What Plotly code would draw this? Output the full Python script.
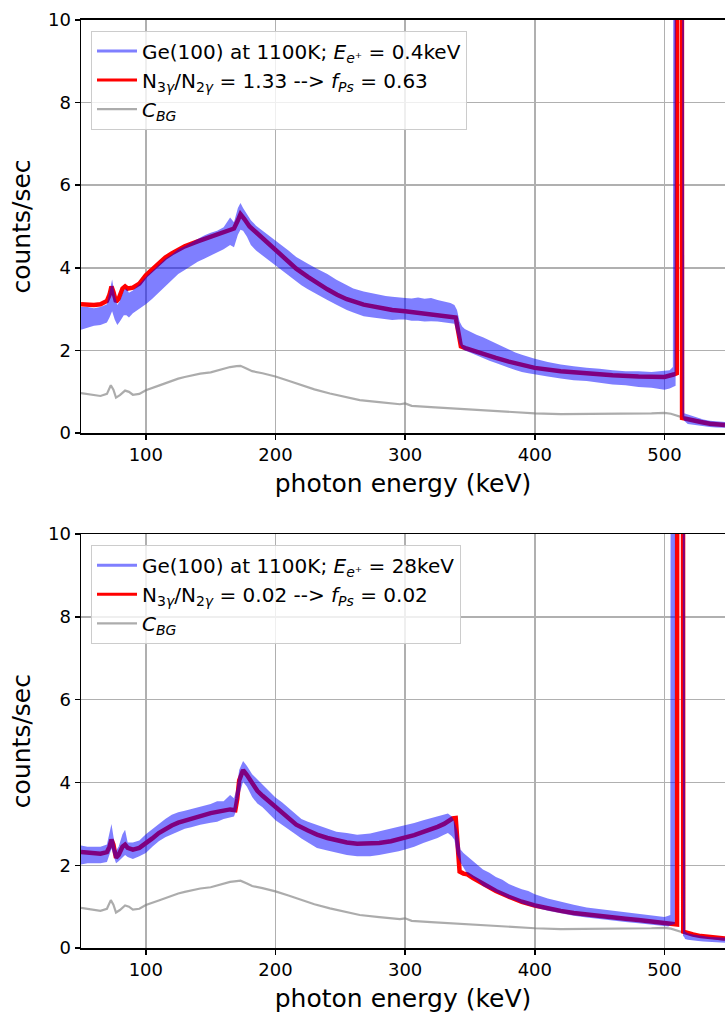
import plotly.graph_objects as go

# ---------------- shared background C_BG ----------------
bg_x = [50, 55, 60, 65, 70, 73, 75, 77, 80, 84, 87, 90, 95, 100, 110, 120, 125, 130, 142, 150,
        160, 165, 170, 173, 178, 182, 190, 200, 210, 220, 230, 242, 250, 265, 280, 290, 296, 300,
        305, 320, 350, 380, 400, 420, 450, 470, 490, 500, 505, 515, 530, 546.7]
bg_y = [0.97, 0.95, 0.92, 0.90, 0.95, 1.16, 1.05, 0.86, 0.92, 1.03, 1.00, 0.93, 0.95, 1.04, 1.15, 1.27,
        1.32, 1.36, 1.44, 1.47, 1.56, 1.60, 1.62, 1.63, 1.56, 1.50, 1.45, 1.37, 1.27, 1.16, 1.06, 0.96,
        0.90, 0.80, 0.75, 0.72, 0.70, 0.72, 0.66, 0.63, 0.57, 0.51, 0.48, 0.46, 0.47, 0.46, 0.48, 0.49,
        0.47, 0.37, 0.28, 0.20]

# ---------------- top panel: E = 0.4 keV ----------------
top_fit_x = [50, 55, 60, 65, 70, 72, 73.5, 75, 77, 79, 82, 84, 86, 90, 95, 100, 105, 110, 115, 120,
             130, 140, 150, 160, 165, 168, 171, 173, 176, 180, 185, 190, 200, 210, 216, 225, 232, 240,
             247.5, 255, 268, 280, 290, 300, 310, 320, 330, 335, 339, 341, 343, 346.5, 350, 360, 370,
             380, 390, 400, 420, 440, 460, 480, 500, 507, 509.5, 509.8, 513.2, 513.6, 516, 520, 528,
             535, 546.7]
top_fit_y = [3.12, 3.10, 3.10, 3.12, 3.20, 3.35, 3.55, 3.42, 3.18, 3.25, 3.50, 3.55, 3.50, 3.52, 3.62,
             3.82, 3.97, 4.10, 4.25, 4.35, 4.52, 4.64, 4.75, 4.85, 4.90, 4.95, 5.15, 5.30, 5.18, 5.00,
             4.86, 4.72, 4.46, 4.18, 3.98, 3.78, 3.63, 3.48, 3.35, 3.24, 3.11, 3.03, 2.98, 2.95, 2.91,
             2.87, 2.85, 2.83, 2.80, 2.45, 2.10, 2.06, 2.02, 1.92, 1.82, 1.73, 1.65, 1.58, 1.50, 1.44,
             1.40, 1.37, 1.36, 1.42, 1.45, 30, 30, 0.37, 0.35, 0.31, 0.27, 0.23, 0.20]

top_data_x = [50, 55, 60, 65, 70, 72, 74, 76, 78, 80, 83, 85, 87, 90, 95, 100, 105, 110, 115, 120,
              125, 130, 135, 140, 145, 150, 155, 160, 165, 168, 171, 173, 175, 178, 181, 185, 190,
              195, 200, 205, 210, 216, 220, 225, 232, 236, 240, 247, 255, 260, 268, 275, 280, 285,
              290, 295, 300, 305, 310, 315, 320, 325, 330, 335, 338, 340, 342, 344, 346, 350, 355,
              360, 365, 370, 375, 380, 385, 390, 395, 400, 410, 420, 430, 440, 450, 460, 470, 480,
              490, 500, 504, 506.5, 507.3, 508.6, 509.2, 513.3, 513.9, 514.6, 515.2, 518, 522, 526,
              530, 535, 540, 546.7]
top_data_lo = [2.50, 2.55, 2.60, 2.62, 2.68, 2.80, 2.95, 2.75, 2.62, 2.70, 2.85, 2.85, 2.80, 2.90,
               3.00, 3.12, 3.25, 3.40, 3.55, 3.72, 3.85, 3.95, 4.05, 4.15, 4.22, 4.30, 4.38, 4.45,
               4.55, 4.50, 4.80, 4.92, 4.90, 4.75, 4.55, 4.42, 4.30, 4.18, 4.06, 3.92, 3.80, 3.67,
               3.58, 3.48, 3.35, 3.28, 3.22, 3.11, 2.98, 2.92, 2.83, 2.80, 2.78, 2.76, 2.74, 2.75,
               2.75, 2.72, 2.72, 2.70, 2.71, 2.70, 2.68, 2.67, 2.65, 2.40, 2.15, 2.05, 2.00, 1.95,
               1.88, 1.82, 1.75, 1.70, 1.63, 1.58, 1.53, 1.48, 1.45, 1.42, 1.37, 1.32, 1.28, 1.26,
               1.22, 1.18, 1.16, 1.12, 1.10, 1.05, 1.08, 1.12, 1.12, 1.15, 30, 30, 0.40, 0.33, 0.30,
               0.22, 0.20, 0.18, 0.16, 0.15, 0.14, 0.13]
top_data_hi = [3.05, 3.05, 3.02, 3.05, 3.12, 3.45, 3.72, 3.35, 3.10, 3.20, 3.45, 3.50, 3.40, 3.45,
               3.60, 3.78, 3.92, 4.08, 4.22, 4.32, 4.45, 4.52, 4.62, 4.70, 4.78, 4.85, 4.90, 4.98,
               5.22, 5.10, 5.45, 5.57, 5.45, 5.30, 5.15, 5.02, 4.90, 4.78, 4.66, 4.55, 4.42, 4.26,
               4.18, 4.10, 3.98, 3.92, 3.85, 3.71, 3.58, 3.50, 3.43, 3.38, 3.35, 3.32, 3.30, 3.28,
               3.27, 3.26, 3.28, 3.25, 3.27, 3.22, 3.18, 3.15, 3.10, 2.98, 2.70, 2.58, 2.52, 2.45,
               2.38, 2.32, 2.25, 2.18, 2.10, 2.02, 1.95, 1.90, 1.85, 1.80, 1.72, 1.66, 1.62, 1.58,
               1.56, 1.52, 1.50, 1.50, 1.48, 1.50, 1.52, 1.60, 30, 30, 30, 30, 30, 30, 0.48, 0.45,
               0.40, 0.36, 0.33, 0.30, 0.29, 0.27]

# ---------------- bottom panel: E = 28 keV ----------------
bot_fit_x = [50, 55, 60, 65, 70, 72, 73.5, 75, 77, 79, 82, 84, 86, 90, 95, 100, 105, 110, 115, 120,
             125, 130, 142, 150, 160, 165, 169, 170.5, 172, 175, 178, 182, 186, 190, 200, 210, 216,
             225, 232, 240, 247.5, 255, 263, 273, 280, 289, 300, 307, 314, 320, 325, 330, 334, 336.5,
             339, 340.5, 342, 345, 348, 352, 360, 370, 380, 390, 400, 410, 420, 430, 440, 450, 460,
             470, 480, 490, 500, 508, 509.7, 510.0, 514.0, 514.5, 517, 522, 528, 535, 546.7]
bot_fit_y = [2.32, 2.30, 2.28, 2.28, 2.32, 2.45, 2.62, 2.50, 2.18, 2.25, 2.45, 2.50, 2.42, 2.38, 2.42,
             2.52, 2.65, 2.78, 2.88, 2.96, 3.03, 3.08, 3.20, 3.26, 3.32, 3.35, 3.33, 3.60, 4.05, 4.30,
             4.18, 3.98, 3.80, 3.68, 3.40, 3.13, 2.98, 2.84, 2.74, 2.66, 2.60, 2.55, 2.52, 2.52, 2.54,
             2.58, 2.66, 2.73, 2.81, 2.87, 2.93, 3.00, 3.08, 3.13, 3.14, 2.60, 1.85, 1.80, 1.78, 1.70,
             1.55, 1.38, 1.24, 1.12, 1.03, 0.96, 0.90, 0.85, 0.81, 0.78, 0.74, 0.71, 0.68, 0.65, 0.62,
             0.57, 0.57, 30, 30, 0.40, 0.37, 0.33, 0.29, 0.26, 0.23]

bot_data_x = [50, 55, 60, 65, 70, 72, 73.5, 75, 77, 79, 82, 84, 86, 90, 95, 100, 105, 110, 115, 120,
              125, 130, 135, 142, 150, 155, 160, 165, 168, 170, 172, 175, 178, 182, 186, 190, 195,
              200, 205, 210, 216, 220, 225, 232, 240, 247, 255, 263, 273, 280, 289, 295, 300, 307,
              314, 320, 325, 330, 333, 336, 338, 340, 342.7, 345, 348, 352, 356, 360, 365, 370, 375,
              380, 385, 390, 395, 400, 410, 420, 430, 440, 450, 460, 470, 480, 490, 500, 503, 504.5,
              505.2, 508.0, 508.7, 513.9, 514.3, 515.3, 515.9, 518, 522, 526, 530, 535, 540, 546.7]
bot_data_lo = [2.02, 2.05, 2.05, 2.05, 2.08, 2.25, 2.40, 2.25, 2.05, 2.10, 2.20, 2.25, 2.20, 2.15,
               2.22, 2.30, 2.45, 2.58, 2.68, 2.75, 2.82, 2.88, 2.92, 2.98, 3.03, 3.05, 3.12, 3.15,
               3.18, 3.35, 3.70, 4.02, 3.90, 3.65, 3.49, 3.40, 3.25, 3.09, 2.98, 2.88, 2.74, 2.65,
               2.55, 2.42, 2.36, 2.30, 2.25, 2.22, 2.22, 2.25, 2.30, 2.34, 2.38, 2.45, 2.54, 2.60,
               2.66, 2.74, 2.78, 2.70, 2.62, 2.25, 2.06, 1.95, 1.79, 1.70, 1.62, 1.50, 1.42, 1.35,
               1.28, 1.20, 1.15, 1.08, 1.03, 0.98, 0.90, 0.84, 0.78, 0.74, 0.70, 0.67, 0.63, 0.60,
               0.56, 0.52, 0.52, 0.55, 0.56, 0.58, 30, 30, 0.30, 0.26, 0.22, 0.20, 0.18, 0.17, 0.16,
               0.15, 0.14, 0.13]
bot_data_hi = [2.48, 2.45, 2.45, 2.45, 2.50, 2.80, 3.00, 2.70, 2.35, 2.45, 2.75, 2.86, 2.55, 2.55,
               2.60, 2.75, 2.88, 3.00, 3.12, 3.22, 3.28, 3.32, 3.36, 3.42, 3.48, 3.55, 3.55, 3.70,
               3.62, 3.85, 4.30, 4.52, 4.40, 4.20, 4.08, 3.95, 3.80, 3.64, 3.52, 3.38, 3.21, 3.12,
               3.05, 2.97, 2.88, 2.81, 2.78, 2.74, 2.77, 2.82, 2.89, 2.92, 2.97, 3.02, 3.09, 3.14,
               3.18, 3.21, 3.25, 3.18, 3.05, 2.85, 2.38, 2.30, 2.22, 2.12, 2.02, 1.90, 1.82, 1.72,
               1.65, 1.55, 1.48, 1.42, 1.38, 1.30, 1.20, 1.12, 1.05, 0.98, 0.94, 0.90, 0.86, 0.82,
               0.78, 0.75, 0.78, 0.80, 30, 30, 30, 30, 30, 30, 0.40, 0.36, 0.33, 0.31, 0.29, 0.27,
               0.26, 0.25]

x_ticks = [100, 200, 300, 400, 500]
y_ticks = [0, 2, 4, 6, 8, 10]

top_labels = ["Ge(100) at 1100K; <i>E</i><sub><i>e⁺</i></sub> = 0.4keV",
              "N<sub>3<i>γ</i></sub>/N<sub>2<i>γ</i></sub> = 1.33 --&gt; <i>f</i><sub><i>Ps</i></sub> = 0.63",
              "<i>C</i><sub><i>BG</i></sub>"]
bot_labels = ["Ge(100) at 1100K; <i>E</i><sub><i>e⁺</i></sub> = 28keV",
              "N<sub>3<i>γ</i></sub>/N<sub>2<i>γ</i></sub> = 0.02 --&gt; <i>f</i><sub><i>Ps</i></sub> = 0.02",
              "<i>C</i><sub><i>BG</i></sub>"]

BLUE = "rgba(0,0,255,0.5)"
RED = "#ff0000"
GRAY = "rgba(128,128,128,0.65)"
FONT = "DejaVu Sans"

fig = go.Figure()

panels = [
    ("x", "y", "legend", top_fit_x, top_fit_y, top_data_x, top_data_lo, top_data_hi, top_labels),
    ("x2", "y2", "legend2", bot_fit_x, bot_fit_y, bot_data_x, bot_data_lo, bot_data_hi, bot_labels),
]
for xa, ya, lg, fx, fy, dx, dlo, dhi, labels in panels:
    # legend-only entries
    fig.add_trace(go.Scatter(x=[None], y=[None], mode="lines", line=dict(color=BLUE, width=3),
                             name=labels[0], legend=lg, legendrank=1, xaxis=xa, yaxis=ya))
    fig.add_trace(go.Scatter(x=[None], y=[None], mode="lines", line=dict(color=RED, width=3),
                             name=labels[1], legend=lg, legendrank=2, xaxis=xa, yaxis=ya))
    fig.add_trace(go.Scatter(x=[None], y=[None], mode="lines", line=dict(color=GRAY, width=2.2),
                             name=labels[2], legend=lg, legendrank=3, xaxis=xa, yaxis=ya))
    # background
    fig.add_trace(go.Scatter(x=bg_x, y=bg_y, mode="lines", line=dict(color=GRAY, width=2.2),
                             showlegend=False, xaxis=xa, yaxis=ya))
    # fit
    fig.add_trace(go.Scatter(x=fx, y=fy, mode="lines", line=dict(color=RED, width=4.5),
                             showlegend=False, xaxis=xa, yaxis=ya))
    # measured spectrum band (semi-transparent, over the fit)
    fig.add_trace(go.Scatter(x=dx, y=dlo, mode="lines", line=dict(width=0, color=BLUE),
                             showlegend=False, xaxis=xa, yaxis=ya))
    fig.add_trace(go.Scatter(x=dx, y=dhi, mode="lines", line=dict(width=0, color=BLUE),
                             fill="tonexty", fillcolor=BLUE, showlegend=False, xaxis=xa, yaxis=ya))

axis_common = dict(showline=True, linecolor="black", linewidth=1.5, ticks="outside", ticklen=5,
                   tickwidth=1.5, tickcolor="black", showgrid=True, gridcolor="#b0b0b0",
                   gridwidth=1.5, zeroline=False, tickfont=dict(family=FONT, size=18, color="black"))

W, H = 725, 1026
xdom = [81 / W, 1.0]
xrange_ = [50, 546.7]
legend_common = dict(xanchor="left", yanchor="top", traceorder="normal",
                     bgcolor="rgba(255,255,255,0.8)", bordercolor="#cccccc", borderwidth=1,
                     font=dict(family=FONT, size=20, color="black"), itemwidth=40)
title_font = dict(family=FONT, size=25, color="black")
fig.update_layout(
    width=W, height=H, margin=dict(l=0, r=0, t=0, b=0),
    paper_bgcolor="white", plot_bgcolor="white",
    font=dict(family=FONT, color="black"),
    xaxis=dict(domain=xdom, range=xrange_, anchor="y", tickvals=x_ticks, mirror=True,
               title=dict(text="photon energy (keV)", font=title_font, standoff=10), **axis_common),
    yaxis=dict(domain=[1 - 431 / H, 1 - 9 / H], range=[0, 10], anchor="x", tickvals=y_ticks,
               title=dict(text="counts/sec", font=title_font, standoff=10), **axis_common),
    xaxis2=dict(domain=xdom, range=xrange_, anchor="y2", tickvals=x_ticks, mirror=True,
                title=dict(text="photon energy (keV)", font=title_font, standoff=10), **axis_common),
    yaxis2=dict(domain=[1 - 956.7 / H, 1 - 534 / H], range=[0, 10], anchor="x2", tickvals=y_ticks,
                title=dict(text="counts/sec", font=title_font, standoff=10), **axis_common),
    legend=dict(x=91 / W, y=1 - 20 / H, **legend_common),
    legend2=dict(x=91 / W, y=1 - 545 / H, **legend_common),
)

# remove the browser's default 8px body margin so the figure sits at the window origin
fig.write_html("out.html",
               config={"displayModeBar": False, "staticPlot": True},
               post_script="document.body.style.margin='0';document.body.style.overflow='hidden';")
